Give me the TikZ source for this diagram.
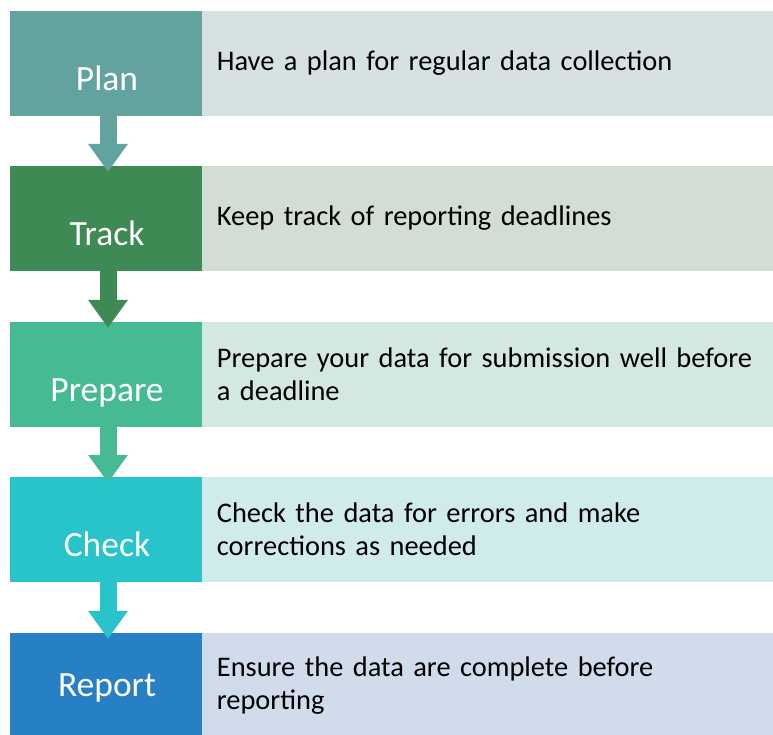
\documentclass[tikz,border=0pt]{standalone}
\usepackage{fontspec}
\setmainfont{Carlito}
\usepackage{tikz}
\usetikzlibrary{positioning,arrows.meta}

\definecolor{planC}{HTML}{62A39F}   \definecolor{planL}{HTML}{D5E2E1}
\definecolor{trackC}{HTML}{3E8A55}  \definecolor{trackL}{HTML}{D2DDD5}
\definecolor{prepC}{HTML}{45BA95}   \definecolor{prepL}{HTML}{D3E8DF}
\definecolor{checkC}{HTML}{28C4C9}  \definecolor{checkL}{HTML}{D0EBEB}
\definecolor{reportC}{HTML}{2880C4} \definecolor{reportL}{HTML}{D0DCEC}

\begin{document}
\begin{tikzpicture}[x=1pt,y=-1pt, line join=round]
				\useasboundingbox (0,0) rectangle (773,734);

				% ===== styles =====
				\tikzset{stepbox/.style={rectangle, draw=none, minimum width=192pt, minimum height=105pt, inner sep=0pt},
					textbox/.style={rectangle, draw=none, minimum width=571pt, minimum height=105pt, inner xsep=14.5pt, inner ysep=0pt,
						text width=542pt, align=left, font=\fontsize{28.4}{33}\selectfont, text=black},
					steplabel/.style={anchor=base, inner sep=0pt, text=white, font=\fontsize{35.5}{40}\selectfont},
					stepArrow/.style={line width=17pt, -{Triangle[width=38pt,length=28pt]}}}

				% ===== left boxes =====
				\node[stepbox, fill=planC]   (plan)   at (106,63.5)  {};
				\node[stepbox, fill=trackC]  (track)  at (106,218.5) {};
				\node[stepbox, fill=prepC]   (prep)   at (106,374.5) {};
				\node[stepbox, fill=checkC]  (check)  at (106,529.5) {};
				\node[stepbox, fill=reportC] (report) at (106,685.5) {};

				% ===== labels =====
				\node[steplabel] (planLbl)   at ([xshift=1pt,yshift=-80pt]plan.north)   {Plan};
				\node[steplabel] (trackLbl)  at ([xshift=1pt,yshift=-80pt]track.north)  {Track};
				\node[steplabel] (prepLbl)   at ([xshift=1pt,yshift=-80pt]prep.north)   {Prepare};
				\node[steplabel] (checkLbl)  at ([xshift=1pt,yshift=-80pt]check.north)  {Check};
				\node[steplabel] (reportLbl) at ([xshift=1pt,yshift=-64pt]report.north) {Report};

				% ===== right boxes =====
				\node[textbox, fill=planL,   right=0pt of plan]   (planTxt)   {Have a plan for regular data collection};
				\node[textbox, fill=trackL,  right=0pt of track]  (trackTxt)  {Keep track of reporting deadlines};
				\node[textbox, fill=prepL,   right=0pt of prep]   (prepTxt)   {Prepare your data for submission well before\\a deadline};
				\node[textbox, fill=checkL,  right=0pt of check]  (checkTxt)  {Check the data for errors and make\\corrections as needed};
				\node[textbox, fill=reportL, right=0pt of report] (reportTxt) {Ensure the data are complete before\\reporting};

				% ===== arrows =====
				\draw[stepArrow, draw=planC, fill=planC]   ([xshift=2pt]plan.south)  -- ([xshift=2pt,yshift=-6pt]track.north);
				\draw[stepArrow, draw=trackC, fill=trackC] ([xshift=2pt]track.south) -- ([xshift=2pt,yshift=-6pt]prep.north);
				\draw[stepArrow, draw=prepC, fill=prepC]   ([xshift=2pt]prep.south)  -- ([xshift=2pt,yshift=-6pt]check.north);
				\draw[stepArrow, draw=checkC, fill=checkC] ([xshift=2pt]check.south) -- ([xshift=2pt,yshift=-6pt]report.north);
\end{tikzpicture}
\end{document}
